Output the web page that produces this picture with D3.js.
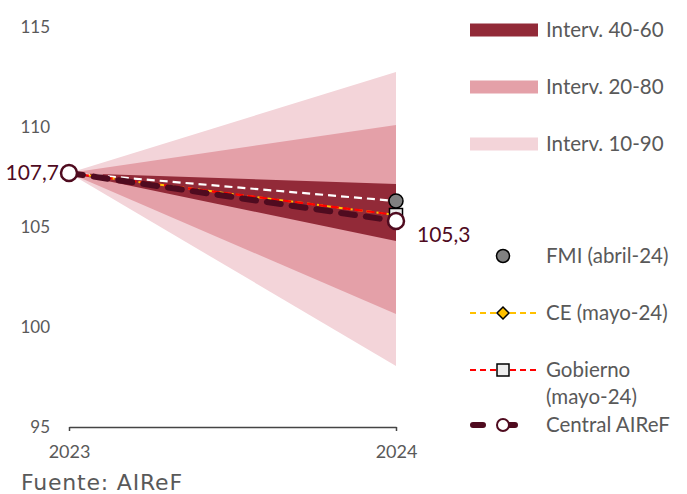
<!DOCTYPE html>
<html>
<head>
<meta charset="utf-8">
<script src="https://cdn.jsdelivr.net/npm/d3@7"></script>
<style>
body { margin: 0; background: #fff; }
text { font-family: Lato, "Open Sans", sans-serif; }
</style>
</head>
<body>
<svg id="chart" width="687" height="494"></svg>
<script>
// data
var years = [2023, 2024];
var yTicks = [95, 100, 105, 110, 115];
var startValue = 107.7;
var band1090 = [98.05, 112.75];
var band2080 = [100.65, 110.1];
var band4060 = [104.3, 107.15];
var fmi = [107.7, 106.3];
var ce = [107.7, 105.6];
var gobierno = [107.7, 105.6];
var central = [107.7, 105.3];

var bandColors = { b4060: "#922a38", b2080: "#e4a0a8", b1090: "#f3d4d9" };
var maroon = "#4f0b1f";
var grey = "#595959";
var legendSize = 20.5;

var svg = d3.select("#chart");

var x = d3.scaleLinear().domain([2023, 2024]).range([69, 396]);
var y = d3.scaleLinear().domain([95, 115]).range([427, 27]);

// fan bands, from the single start point to the 2024 interval
function fan(band) {
	return [[x(2023), y(startValue)], [x(2024), y(band[1])], [x(2024), y(band[0])]];
}
var poly = d3.line();
[[band1090, bandColors.b1090], [band2080, bandColors.b2080], [band4060, bandColors.b4060]].forEach(function(b){
	svg.append("path")
		.attr("d", poly(fan(b[0])) + "Z")
		.attr("fill", b[1]);
});

// axes
var yAxis = svg.append("g");
yAxis.selectAll("text")
	.data(yTicks)
	.enter().append("text")
	.attr("x", 50)
	.attr("y", function(d){ return y(d); })
	.attr("dy", "0.35em")
	.attr("text-anchor", "end")
	.attr("font-size", 17)
	.attr("fill", grey)
	.text(function(d){ return d; });

var xAxis = svg.append("g").attr("transform", "translate(0," + y(95) + ")");
xAxis.call(d3.axisBottom(x).tickValues(years).tickFormat(d3.format("d")).tickSize(4).tickSizeOuter(0));
xAxis.select(".domain").attr("stroke", "#444").attr("stroke-width", 1.5);
xAxis.selectAll(".tick line").attr("stroke", "#444").attr("stroke-width", 1.5);
xAxis.selectAll(".tick text")
	.attr("y", 18)
	.attr("font-size", 18)
	.style("font-family", "Lato, sans-serif")
	.attr("fill", grey);

// lines
var line = d3.line()
	.x(function(d, i){ return x(years[i]); })
	.y(function(d){ return y(d); });

svg.append("path").datum(fmi).attr("d", line)
	.attr("fill", "none").attr("stroke", "#fff").attr("stroke-width", 2.2).attr("stroke-dasharray", "8,5");
svg.append("path").datum(ce).attr("d", line)
	.attr("fill", "none").attr("stroke", "#ffc000").attr("stroke-width", 2).attr("stroke-dasharray", "6,4");
svg.append("path").datum(gobierno).attr("d", line)
	.attr("fill", "none").attr("stroke", "#ff0000").attr("stroke-width", 2.2).attr("stroke-dasharray", "8,4");
svg.append("path").datum(central).attr("d", line)
	.attr("fill", "none").attr("stroke", maroon).attr("stroke-width", 6)
	.attr("stroke-linecap", "round").attr("stroke-dasharray", "14,11");

// markers at 2024
function diamond(g, cx, cy, r) {
	g.append("path")
		.attr("d", "M" + cx + "," + (cy - r) + "L" + (cx + r) + "," + cy + "L" + cx + "," + (cy + r) + "L" + (cx - r) + "," + cy + "Z")
		.attr("fill", "#ffc000").attr("stroke", "#000").attr("stroke-width", 1.5);
}
diamond(svg, x(2024), y(ce[1]), 6);
svg.append("rect")
	.attr("x", x(2024) - 6.5).attr("y", y(gobierno[1]) - 6.5)
	.attr("width", 13).attr("height", 13)
	.attr("fill", "#eee").attr("stroke", "#000").attr("stroke-width", 1.5);
svg.append("circle")
	.attr("cx", x(2024)).attr("cy", y(fmi[1])).attr("r", 7)
	.attr("fill", "#808080").attr("stroke", "#000").attr("stroke-width", 1.5);
svg.selectAll(".central-pt")
	.data(central)
	.enter().append("circle")
	.attr("class", "central-pt")
	.attr("cx", function(d, i){ return x(years[i]); })
	.attr("cy", function(d){ return y(d); })
	.attr("r", 8)
	.attr("fill", "#fff").attr("stroke", maroon).attr("stroke-width", 2.5);

// value labels
svg.append("text")
	.attr("x", x(2023) - 10).attr("y", y(central[0]))
	.attr("dy", "0.35em").attr("text-anchor", "end")
	.attr("font-size", 21).attr("fill", maroon)
	.text(d3.format(".1f")(central[0]).replace(".", ","));
svg.append("text")
	.attr("x", x(2024) + 21).attr("y", y(central[1]) + 14)
	.attr("dy", "0.35em")
	.attr("font-size", 21).attr("fill", maroon)
	.text(d3.format(".1f")(central[1]).replace(".", ","));

// legend
var legend = svg.append("g");
var bandLegend = [
	{ label: "Interv. 40-60", color: bandColors.b4060, y: 30 },
	{ label: "Interv. 20-80", color: bandColors.b2080, y: 87 },
	{ label: "Interv. 10-90", color: bandColors.b1090, y: 144 }
];
bandLegend.forEach(function(d){
	legend.append("rect")
		.attr("x", 470).attr("y", d.y - 6.5).attr("width", 68).attr("height", 13)
		.attr("fill", d.color);
	legend.append("text")
		.attr("x", 546).attr("y", d.y).attr("dy", "0.35em")
		.attr("font-size", legendSize).attr("fill", grey)
		.text(d.label);
});

// FMI
legend.append("circle").attr("cx", 503).attr("cy", 256).attr("r", 6.5)
	.attr("fill", "#808080").attr("stroke", "#000").attr("stroke-width", 1.5);
legend.append("text").attr("x", 546).attr("y", 256).attr("dy", "0.35em")
	.attr("font-size", legendSize).attr("fill", grey).text("FMI (abril-24)");

// CE
legend.append("line").attr("x1", 470).attr("x2", 538).attr("y1", 313).attr("y2", 313)
	.attr("stroke", "#ffc000").attr("stroke-width", 2).attr("stroke-dasharray", "6,4");
diamond(legend, 503, 313, 6);
legend.append("text").attr("x", 546).attr("y", 313).attr("dy", "0.35em")
	.attr("font-size", legendSize).attr("fill", grey).text("CE (mayo-24)");

// Gobierno
legend.append("line").attr("x1", 470).attr("x2", 538).attr("y1", 370).attr("y2", 370)
	.attr("stroke", "#ff0000").attr("stroke-width", 2).attr("stroke-dasharray", "6,4");
legend.append("rect").attr("x", 497).attr("y", 364).attr("width", 12).attr("height", 12)
	.attr("fill", "#eee").attr("stroke", "#000").attr("stroke-width", 1.5);
legend.append("text").attr("x", 546).attr("y", 370).attr("dy", "0.35em")
	.attr("font-size", legendSize).attr("fill", grey).text("Gobierno");
legend.append("text").attr("x", 546).attr("y", 397).attr("dy", "0.35em")
	.attr("font-size", legendSize).attr("fill", grey).text("(mayo-24)");

// Central AIReF
legend.append("line").attr("x1", 473).attr("x2", 535).attr("y1", 425).attr("y2", 425)
	.attr("stroke", maroon).attr("stroke-width", 6).attr("stroke-linecap", "round")
	.attr("stroke-dasharray", "10,22");
legend.append("circle").attr("cx", 503).attr("cy", 425).attr("r", 6)
	.attr("fill", "#fff").attr("stroke", maroon).attr("stroke-width", 2);
legend.append("text").attr("x", 546).attr("y", 425).attr("dy", "0.35em")
	.attr("font-size", legendSize).attr("fill", grey).text("Central AIReF");

// source
svg.append("text")
	.attr("x", 21).attr("y", 490)
	.attr("font-size", 22)
	.style("font-family", "'DejaVu Sans', sans-serif")
	.style("letter-spacing", "0.8px")
	.attr("fill", grey).text("Fuente: AIReF");
</script>
</body>
</html>
